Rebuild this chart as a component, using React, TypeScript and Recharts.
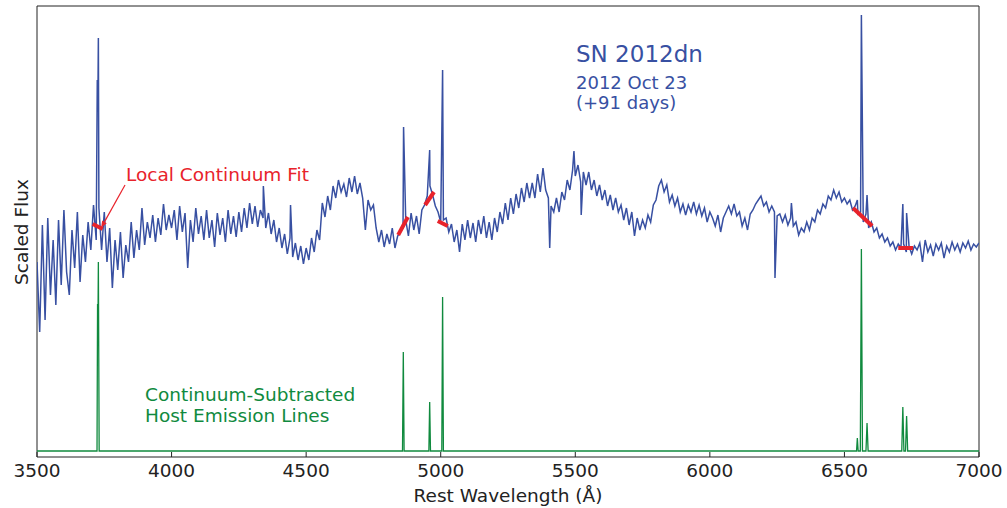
import React from 'react';
import { LineChart, Line, XAxis, YAxis, ReferenceLine } from 'recharts';

// spectrum sampled on a 10 Å grid, one array per 500 Å block (scaled flux units)
const WAVE_START = 3500;
const WAVE_STEP = 10;

const flux3500 = [
  189, 119, 226, 131, 233, 156, 211, 146, 231, 166,
  241, 179, 156, 221, 183, 239, 169, 216, 189, 229,
  201, 246, 211, 243, 201, 239, 189, 223, 163, 211,
  181, 219, 173, 206, 189, 229, 193, 221, 201, 243,
  206, 229, 213, 236, 209, 233, 216, 247, 221, 236,
];
const flux4000 = [
  223, 241, 211, 245, 219, 238, 183, 231, 209, 243,
  217, 235, 211, 241, 213, 231, 204, 238, 216, 233,
  209, 241, 217, 235, 214, 239, 219, 243, 223, 248,
  227, 245, 224, 241, 233, 223, 238, 217, 231, 209,
  223, 203, 217, 197, 213, 194, 208, 191, 205, 187,
];
const flux4500 = [
  203, 191, 213, 199, 221, 211, 248, 234, 255, 241,
  265, 253, 271, 259, 267, 254, 273, 259, 275, 257,
  268, 253, 221, 251, 241, 246, 223, 209, 221, 204,
  217, 207, 223, 203, 215, 219, 223, 231, 215, 238,
  221, 235, 217, 241, 246, 255, 265, 256, 245, 239,
];
const flux5000 = [
  229, 231, 233, 219, 227, 209, 221, 199, 227, 211,
  231, 213, 228, 209, 231, 217, 235, 213, 229, 211,
  233, 219, 239, 227, 248, 231, 253, 237, 257, 243,
  263, 249, 268, 253, 268, 253, 277, 259, 283, 261,
  253, 245, 239, 253, 239, 259, 251, 271, 261, 281,
];
const flux5500 = [
  275, 286, 269, 279, 266, 279, 261, 271, 255, 266,
  251, 261, 245, 256, 241, 253, 239, 246, 231, 243,
  226, 239, 215, 233, 221, 231, 223, 236, 229, 246,
  251, 265, 271, 259, 266, 249, 256, 245, 253, 239,
  247, 236, 246, 239, 249, 237, 246, 235, 243, 229,
];
const flux6000 = [
  239, 233, 225, 236, 219, 233, 239, 245, 237, 247,
  235, 239, 225, 233, 221, 237, 241, 247, 251, 255,
  245, 249, 239, 245, 239, 235, 237, 229, 236, 226,
  233, 225, 229, 216, 223, 219, 229, 221, 233, 229,
  241, 237, 247, 243, 255, 251, 261, 253, 259, 249,
];
const flux6500 = [
  253, 247, 251, 241, 245, 237, 239, 229, 237, 223,
  229, 219, 223, 213, 217, 209, 213, 205, 209, 201,
  207, 203, 207, 199, 205, 197, 205, 201, 208, 189,
  211, 199, 206, 195, 207, 201, 208, 193, 205, 199,
  209, 201, 207, 199, 208, 203, 210, 201, 207, 204,
];
const flux7000 = [208];

// narrow features between grid points (emission spikes, absorption dips)
const featureWave = [3724, 3726, 3728, 4341, 4442, 4862, 4959, 5007, 5405, 5495, 5522, 6242, 6303, 6548, 6563, 6584, 6717, 6731];
const featureFlux = [371, 340, 413, 265, 246, 324, 301, 381, 203, 300, 236, 173, 248, 251, 436, 256, 247, 238];

// continuum-subtracted host emission lines
const hostWave = [3500, 3723, 3725, 3726, 3728, 3731, 4858, 4861, 4864, 4956, 4959, 4962, 5004, 5007, 5010,
  6545, 6548, 6551, 6559, 6563, 6567, 6580, 6584, 6588, 6713, 6717, 6721, 6727, 6731, 6735, 7000];
const hostFlux = [0, 0, 147, 110, 189, 0, 0, 99, 0, 0, 49, 0, 0, 154, 0,
  0, 13, 0, 0, 202, 0, 0, 28, 0, 0, 44, 0, 0, 35, 0, 0];

// local continuum fits: [start, end]
const fitWave = [[3707, 3744], [4842, 4878], [4942, 4975], [4989, 5026], [6532, 6603], [6700, 6755]];
const fitFlux = [[227, 222], [216, 234], [246, 259], [230, 225], [243, 225], [203, 203]];

const arrowFrom = { x: 3827, y: 266 };
const arrowTo = { x: 3738, y: 223 };

const xTicks = [3500, 4000, 4500, 5000, 5500, 6000, 6500, 7000];

const BLUE = '#3850a2';
const GREEN = '#108a3e';
const RED = '#e8232b';
const FONT = '"DejaVu Sans", Verdana, sans-serif';

const gridFlux = [flux3500, flux4000, flux4500, flux5000, flux5500, flux6000, flux6500, flux7000].flat();
const spectrum = gridFlux
  .map((f, i) => ({ wave: WAVE_START + i * WAVE_STEP, flux: f }))
  .concat(featureWave.map((w, i) => ({ wave: w, flux: featureFlux[i] })))
  .sort((a, b) => a.wave - b.wave);
const host = hostWave.map((w, i) => ({ wave: w, flux: hostFlux[i] }));
const fits = fitWave.map((pair, i) => pair.map((w, j) => ({ wave: w, flux: fitFlux[i][j] })));

const Arrow = (p: any) => {
  const { x1, y1, x2, y2 } = p;
  const ang = Math.atan2(y2 - y1, x2 - x1);
  const len = 7;
  const half = 2.6;
  const bx = x2 - len * Math.cos(ang);
  const by = y2 - len * Math.sin(ang);
  const nx = -Math.sin(ang) * half;
  const ny = Math.cos(ang) * half;
  return (
    <g>
      <line x1={x1} y1={y1} x2={bx} y2={by} stroke={RED} strokeWidth={1.2} />
      <polygon points={`${x2},${y2} ${bx + nx},${by + ny} ${bx - nx},${by - ny}`} fill={RED} />
    </g>
  );
};

export default function App() {
  const tickStyle = { fontSize: 18.5, fill: '#222', fontFamily: FONT };
  return (
    <div style={{ position: 'absolute', left: 0, top: 0, width: 1007, height: 508, background: '#fff', fontFamily: FONT }}>
      <LineChart width={1007} height={508} margin={{ top: 0, right: 28, bottom: 0, left: 37 }}>
        <XAxis
          dataKey="wave"
          type="number"
          domain={[3500, 7000]}
          ticks={xTicks}
          allowDataOverflow
          height={51}
          tickSize={-5}
          tickMargin={12}
          tick={tickStyle}
          stroke="#222"
          label={{ value: 'Rest Wavelength (Å)', position: 'insideBottom', offset: 6, fontSize: 18.5, fill: '#222', fontFamily: FONT }}
        />
        <XAxis
          xAxisId="top"
          orientation="top"
          dataKey="wave"
          type="number"
          domain={[3500, 7000]}
          ticks={xTicks}
          height={6}
          tickSize={-5}
          tick={false}
          stroke="#222"
        />
        <YAxis hide type="number" domain={[-6, 445]} allowDataOverflow />
        <ReferenceLine x={3500} stroke="#222" />
        <ReferenceLine x={7000} stroke="#222" />
        <Line data={host} dataKey="flux" stroke={GREEN} strokeWidth={1.3} dot={false} activeDot={false} isAnimationActive={false} />
        <Line data={spectrum} dataKey="flux" stroke={BLUE} strokeWidth={1.5} dot={false} activeDot={false} isAnimationActive={false} />
        {fits.map((seg, i) => (
          <Line key={i} data={seg} dataKey="flux" stroke={RED} strokeWidth={4} dot={false} activeDot={false} isAnimationActive={false} />
        ))}
        <ReferenceLine segment={[arrowFrom, arrowTo]} shape={Arrow} ifOverflow="visible" />
      </LineChart>
      <svg width={1007} height={508} style={{ position: 'absolute', left: 0, top: 0, pointerEvents: 'none' }} fontFamily={FONT}>
        <text x={576} y={62} fontSize={23} fill={BLUE}>SN 2012dn</text>
        <text x={576} y={89} fontSize={18} fill={BLUE}>2012 Oct 23</text>
        <text x={576} y={109} fontSize={18} fill={BLUE}>(+91 days)</text>
        <text x={126} y={181} fontSize={18.5} fill={RED}>Local Continuum Fit</text>
        <text x={145} y={401} fontSize={18.5} fill={GREEN}>Continuum-Subtracted</text>
        <text x={145} y={422} fontSize={18.5} fill={GREEN}>Host Emission Lines</text>
        <text transform="translate(28,232) rotate(-90)" textAnchor="middle" fontSize={18.5} fill="#222">Scaled Flux</text>
      </svg>
    </div>
  );
}
